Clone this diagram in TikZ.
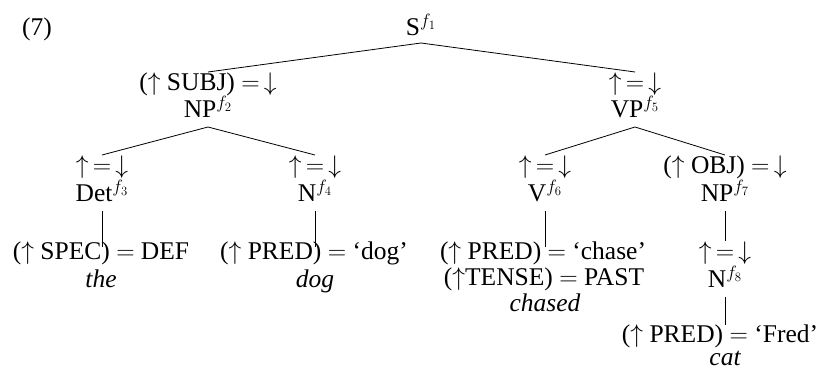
\RequirePackage{fix-cm}
\documentclass[tikz,border=0pt]{standalone}
\usepackage{fontspec}
\setmainfont{Liberation Serif}
\begin{document}
\begin{tikzpicture}[x=1pt,y=-1pt,
  lbl/.style={font=\fontsize{25.5}{30}\selectfont, inner sep=0pt, outer sep=0pt, anchor=base},
  cat/.style={lbl, inner ysep=9pt, text height=15pt, text depth=0pt},
  ann/.style={lbl, inner ysep=2pt, text height=17pt, text depth=0pt},
  leaf/.style={lbl, text height=13pt, text depth=0pt},
  word/.style={lbl, font=\fontsize{25.5}{30}\selectfont\itshape},
  branch/.style={draw, line width=0.8pt}]
\useasboundingbox (0,0) rectangle (825,371);
% example number
\node[lbl] (num) at (37,36) {(7)};
% root
\node[cat, inner ysep=7pt] (s1) at (421,36) {S$^{f_1}$};
% level 1
\node[ann] (subj) at (208,91) {($\uparrow$ SUBJ) $=\,\downarrow$};
\node[cat] (np2) at (208,118) {NP$^{f_2}$};
\node[ann] (vpann) at (635,91) {$\uparrow\,=\,\downarrow$};
\node[cat] (vp5) at (635,118) {VP$^{f_5}$};
% level 2
\node[ann] (detann) at (102,174) {$\uparrow\,=\,\downarrow$};
\node[cat] (det3) at (102,202) {Det$^{f_3}$};
\node[ann] (nann) at (315,174) {$\uparrow\,=\,\downarrow$};
\node[cat] (n4) at (315,202) {N$^{f_4}$};
\node[ann] (vann) at (545,174) {$\uparrow\,=\,\downarrow$};
\node[cat] (v6) at (545,202) {V$^{f_6}$};
\node[ann] (obj) at (725,174) {($\uparrow$ OBJ) $=\,\downarrow$};
\node[cat] (np7) at (725,202) {NP$^{f_7}$};
% level 3
\node[ann] (n8ann) at (725,260) {$\uparrow\,=\,\downarrow$};
\node[cat] (n8) at (725,288) {N$^{f_8}$};
% leaves
\node[leaf] (spec) at (101,260) {($\uparrow$ SPEC) $=$ DEF};
\node[word] (the) at (101,288) {the};
\node[leaf] (dogeq) at (314,260) {($\uparrow$ PRED) $=$ ‘dog’};
\node[word] (dog) at (315,288) {dog};
\node[leaf] (chase) at (543,260) {($\uparrow$ PRED) $=$ ‘chase’};
\node[leaf] (tense) at (544,286) {($\uparrow$TENSE) $=$ PAST};
\node[word] (chased) at (545,312) {chased};
\node[leaf, text height=18pt] (fred) at (720,343) {($\uparrow$ PRED) $=$ ‘Fred’};
\node[word] (cat) at (725,366) {cat};
% branches
\draw[branch] (s1.south) -- (subj.north);
\draw[branch] (s1.south) -- (vpann.north);
\draw[branch] (np2.south) -- (detann.north);
\draw[branch] (np2.south) -- (nann.north);
\draw[branch] (vp5.south) -- (vann.north);
\draw[branch] (vp5.south) -- (obj.north);
\draw[branch] (det3.south) -- (det3.south |- spec.north);
\draw[branch] (n4.south) -- (n4.south |- dogeq.north);
\draw[branch] (v6.south) -- (v6.south |- chase.north);
\draw[branch] (np7.south) -- (np7.south |- n8ann.north);
\draw[branch] (n8.south) -- (n8.south |- fred.north);
\end{tikzpicture}
\end{document}
